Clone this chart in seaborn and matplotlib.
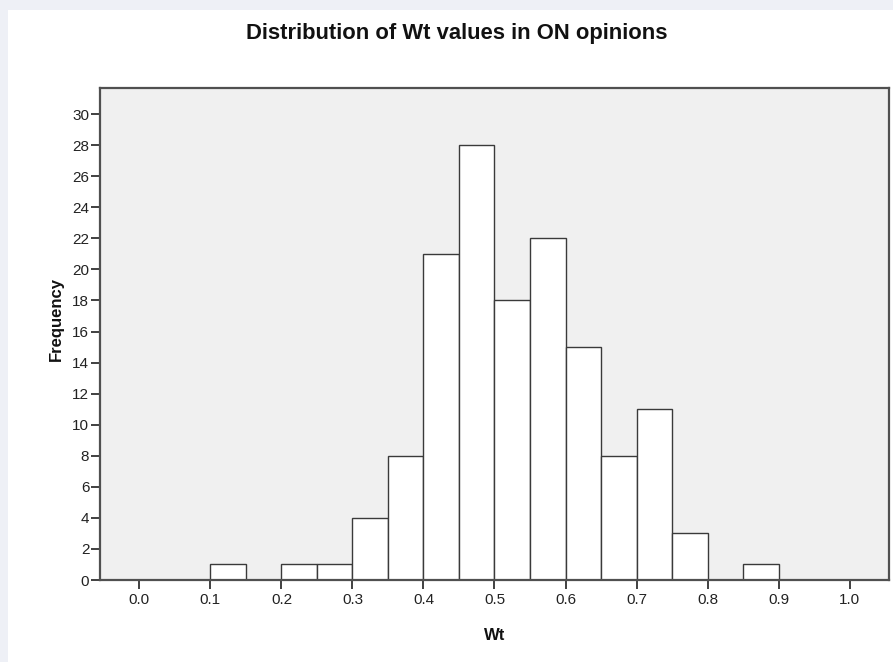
import matplotlib
matplotlib.use("Agg")
import matplotlib.pyplot as plt
from matplotlib.patches import Rectangle
import seaborn as sns

# histogram bins of Wt (width 0.05) and their frequencies
bin_edges = [0.10, 0.15, 0.20, 0.25, 0.30, 0.35, 0.40, 0.45, 0.50,
             0.55, 0.60, 0.65, 0.70, 0.75, 0.80, 0.85, 0.90]
bin_mids = [0.125, 0.175, 0.225, 0.275, 0.325, 0.375, 0.425, 0.475,
            0.525, 0.575, 0.625, 0.675, 0.725, 0.775, 0.825, 0.875]
counts = [1, 0, 1, 1, 4, 8, 21, 28, 18, 22, 15, 8, 11, 3, 0, 1]

x_ticks = [0.0, 0.1, 0.2, 0.3, 0.4, 0.5, 0.6, 0.7, 0.8, 0.9, 1.0]
y_ticks = [0, 2, 4, 6, 8, 10, 12, 14, 16, 18, 20, 22, 24, 26, 28, 30]

sns.set_style("ticks")
plt.rcParams['font.family'] = ['Liberation Sans', 'DejaVu Sans']

fig = plt.figure(figsize=(8.93, 6.62), dpi=100)
fig.patch.set_facecolor('#eef0f6')
fig.patches.append(Rectangle((8 / 893, 0), 1, 1 - 10 / 662, transform=fig.transFigure,
                             facecolor='white', edgecolor='none', zorder=-10))

ax = fig.add_axes([100 / 893, 82 / 662, 789 / 893, 492 / 662])
ax.set_facecolor('#f0f0f0')

sns.histplot(x=bin_mids, weights=counts, bins=bin_edges, ax=ax,
             color='white', alpha=1, edgecolor='#3a3a3a', linewidth=1.0)

ax.set_xlim(-0.0555, 1.0555)
ax.set_ylim(0, 31.68)
ax.set_xticks(x_ticks)
ax.set_xticklabels([f'{t:.1f}' for t in x_ticks])
ax.set_yticks(y_ticks)

for side in ['left', 'right', 'top', 'bottom']:
    ax.spines[side].set_visible(True)
    ax.spines[side].set_color('#505050')
    ax.spines[side].set_linewidth(1.6)

ax.tick_params(axis='both', direction='out', length=6.7, width=1.4, color='#404040',
               labelsize=11, labelcolor='#222222')
ax.tick_params(axis='x', pad=2.5)
ax.tick_params(axis='y', pad=1)

ax.set_xlabel('Wt', fontsize=12, fontweight='bold', color='#111111')
ax.set_ylabel('Frequency', fontsize=12, fontweight='bold', color='#111111')
ax.xaxis.set_label_coords(0.5, -0.098)
ax.yaxis.set_label_coords(-0.046, 0.53)

fig.text(457 / 893, 1 - 33 / 662, 'Distribution of Wt values in ON opinions',
         ha='center', va='center', fontsize=15.8, fontweight='bold', color='#111111')

fig.savefig('out.png', dpi=100, facecolor=fig.get_facecolor())
